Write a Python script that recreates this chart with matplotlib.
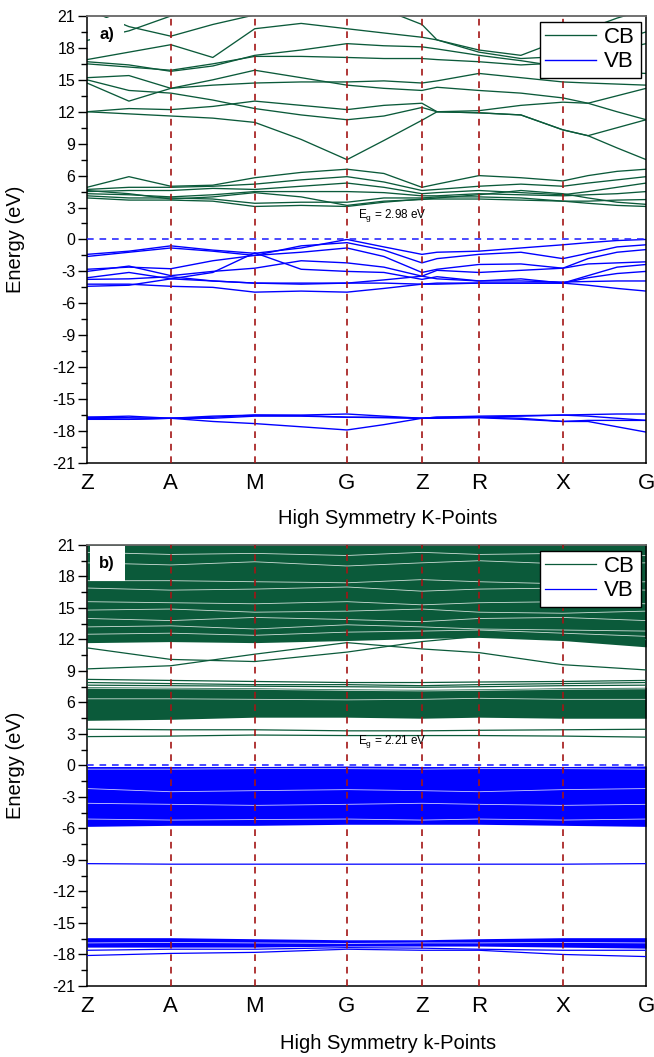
import numpy as np
import matplotlib
matplotlib.use("Agg")
import matplotlib.pyplot as plt
from matplotlib.ticker import MultipleLocator

plt.rcParams['font.family'] = ['Liberation Sans', 'DejaVu Sans']
plt.rcParams['axes.unicode_minus'] = False
plt.rcParams['mathtext.fontset'] = 'custom'
plt.rcParams['mathtext.rm'] = 'Liberation Sans'
plt.rcParams['mathtext.it'] = 'Liberation Sans:italic'

# ---------------- data ----------------
K_LABELS = ["Z", "A", "M", "G", "Z", "R", "X", "G"]
K_TICKS = [0.0, 0.150, 0.300, 0.465, 0.599, 0.701, 0.851, 1.0]
# sampling positions along the path for panel a
K_SAMPLES = [0.0, 0.075, 0.150, 0.225, 0.300, 0.383, 0.465, 0.531,
             0.599, 0.626, 0.701, 0.776, 0.851, 0.896, 0.948, 1.0]

# panel a conduction bands (eV) at K_SAMPLES
cb_a_upper = [
    [21.6, 20.0, 19.1, 20.2, 21.1, 21.6, 21.6, 21.6, 20.2, 18.75, 17.8, 17.3, 18.8, 19.8, 20.8, 21.6],
    [16.9, 17.6, 18.3, 17.1, 19.8, 20.3, 19.8, 19.4, 19.0, 18.75, 17.6, 17.0, 17.2, 17.9, 18.7, 19.5],
    [18.7, 19.6, 21.0, 21.6, 21.6, 21.6, 21.6, 21.6, 21.6, 21.6, 21.6, 21.6, 21.6, 21.6, 21.6, 21.6],
    [16.7, 16.4, 15.8, 16.3, 17.3, 17.8, 18.4, 18.2, 18.1, 17.9, 17.3, 16.8, 16.2, 15.8, 15.7, 15.6],
    [16.5, 16.2, 15.9, 16.5, 17.2, 17.2, 17.1, 17.0, 17.0, 16.9, 16.7, 16.4, 16.6, 17.2, 17.8, 18.4],
    [15.2, 15.4, 14.2, 14.5, 14.7, 14.8, 14.8, 14.9, 14.7, 14.9, 15.6, 15.2, 14.8, 14.7, 14.6, 14.5],
    [15.0, 14.0, 13.75, 13.1, 12.3, 11.7, 11.25, 11.6, 12.4, 12.0, 11.9, 11.7, 10.3, 9.75, 10.5, 11.25],
    [14.7, 13.0, 14.2, 15.0, 15.9, 15.2, 14.5, 14.2, 14.0, 14.3, 14.0, 13.75, 13.3, 12.8, 13.5, 14.2],
    [12.0, 11.8, 11.6, 11.4, 11.0, 9.4, 7.5, 9.3, 11.2, 12.0, 11.9, 11.7, 10.3, 9.75, 8.6, 7.5],
    [12.0, 12.3, 12.2, 12.5, 13.0, 12.6, 12.2, 12.6, 12.8, 12.0, 12.1, 12.6, 12.9, 12.8, 12.0, 11.25],
]
cb_a_lower = [
    [4.9, 5.9, 5.0, 5.1, 5.8, 6.3, 6.6, 6.2, 4.9, 5.2, 6.0, 5.8, 5.5, 6.0, 6.4, 6.6],
    [4.7, 4.9, 4.9, 5.0, 5.2, 5.6, 5.9, 5.4, 4.6, 4.7, 5.0, 5.2, 5.0, 5.3, 5.6, 5.9],
    [4.5, 4.6, 4.6, 4.8, 4.7, 5.0, 5.3, 4.9, 4.3, 4.4, 4.6, 4.4, 4.2, 4.5, 4.9, 5.3],
    [4.3, 4.2, 4.0, 4.2, 4.5, 4.5, 4.5, 4.4, 4.1, 4.1, 4.3, 4.2, 4.1, 4.2, 4.3, 4.5],
    [4.1, 3.9, 3.9, 3.8, 3.4, 3.5, 3.5, 3.9, 3.9, 4.0, 4.0, 3.9, 3.6, 3.6, 3.7, 3.75],
    [3.9, 3.7, 3.7, 3.6, 3.1, 3.2, 3.1, 3.5, 3.8, 3.8, 3.8, 3.7, 3.6, 3.4, 3.2, 3.1],
    [4.6, 4.3, 3.8, 4.0, 4.4, 4.0, 3.2, 3.6, 3.75, 3.9, 4.2, 4.6, 4.3, 3.9, 3.5, 3.3],
]
# panel a valence bands
vb_a_upper = [
    [-1.4, -1.1, -0.6, -1.0, -1.3, -0.8, 0.0, -0.7, -1.4, -1.2, -1.1, -0.8, -0.5, -0.3, -0.1, 0.0],
    [-1.6, -1.2, -0.8, -1.1, -1.5, -0.6, -0.3, -1.0, -2.2, -1.8, -1.4, -1.2, -1.8, -1.3, -0.7, -0.5],
    [-2.8, -2.6, -2.75, -2.0, -1.5, -1.2, -0.8, -1.6, -3.1, -2.8, -2.35, -2.3, -2.7, -1.8, -1.2, -0.95],
    [-3.0, -2.5, -3.4, -3.0, -2.7, -2.0, -2.2, -2.6, -3.45, -2.9, -3.1, -2.9, -2.7, -2.3, -2.2, -2.1],
    [-3.6, -3.1, -3.7, -3.1, -1.25, -2.8, -3.0, -3.1, -3.75, -3.5, -3.9, -3.7, -4.1, -3.4, -2.6, -2.35],
    [-3.75, -3.7, -3.5, -3.9, -4.1, -4.1, -4.1, -4.1, -4.2, -4.1, -4.1, -4.1, -4.1, -3.6, -3.2, -3.0],
    [-4.2, -4.2, -4.4, -4.5, -4.95, -4.85, -4.95, -4.6, -4.2, -4.2, -4.1, -4.1, -4.1, -4.3, -4.6, -4.85],
    [-4.4, -4.3, -3.7, -3.9, -4.1, -4.2, -4.1, -3.8, -3.45, -3.7, -3.9, -3.9, -4.0, -3.95, -3.9, -3.9],
]
vb_a_lower = [
    [-16.7, -16.6, -16.8, -16.7, -16.5, -16.5, -16.4, -16.6, -16.8, -16.7, -16.6, -16.55, -16.5, -16.45, -16.4, -16.4],
    [-16.8, -16.9, -16.8, -16.8, -16.6, -16.6, -16.7, -16.7, -16.8, -16.75, -16.7, -16.8, -17.1, -17.0, -17.0, -17.0],
    [-16.9, -16.9, -16.8, -17.1, -17.3, -17.6, -17.9, -17.4, -16.8, -16.8, -16.75, -16.9, -17.1, -17.1, -17.6, -18.1],
    [-16.7, -16.75, -16.8, -16.6, -16.5, -16.55, -16.7, -16.75, -16.8, -16.7, -16.7, -16.6, -16.5, -16.6, -16.8, -17.0],
]

# panel b (values at K_TICKS)
cb_b_block_hi_low = [11.7, 11.8, 11.7, 11.9, 12.1, 12.2, 11.9, 11.3]
cb_b_block_hi_top = [21.5, 21.5, 21.5, 21.5, 21.5, 21.5, 21.5, 21.5]
cb_b_block_lo_low = [4.3, 4.4, 4.6, 4.6, 4.5, 4.6, 4.5, 4.5]
cb_b_block_lo_top = [7.5, 7.45, 7.4, 7.3, 7.25, 7.3, 7.4, 7.45]
cb_b_lines = [
    [11.2, 10.1, 9.9, 10.8, 11.8, 12.3, 12.2, 12.0],
    [9.2, 9.5, 10.6, 11.7, 11.1, 10.75, 9.6, 9.1],
    [8.2, 8.1, 8.0, 7.9, 7.9, 7.95, 8.0, 8.1],
    [7.9, 7.8, 7.7, 7.7, 7.6, 7.7, 7.8, 7.9],
    [7.65, 7.6, 7.55, 7.5, 7.45, 7.5, 7.6, 7.65],
    [3.45, 3.4, 3.4, 3.3, 3.3, 3.35, 3.4, 3.45],
    [2.75, 2.8, 2.9, 2.85, 2.85, 2.85, 2.8, 2.7],
]
cb_b_gaps = [
    [20.3, 20.1, 20.2, 20.0, 20.3, 20.1, 20.2, 20.0],
    [19.3, 19.1, 19.4, 19.0, 19.3, 19.5, 19.2, 19.3],
    [17.6, 17.6, 17.5, 17.4, 17.7, 17.5, 17.3, 17.5],
    [16.9, 16.7, 16.8, 17.0, 16.6, 16.8, 16.9, 16.7],
    [15.6, 15.5, 15.4, 15.6, 15.3, 15.5, 15.6, 15.4],
    [14.8, 14.9, 14.6, 14.7, 14.9, 14.6, 14.5, 14.7],
    [14.0, 13.8, 14.1, 13.9, 13.7, 14.0, 14.1, 13.8],
    [13.2, 13.3, 13.0, 13.4, 13.2, 13.0, 12.9, 12.8],
    [12.5, 12.6, 12.4, 12.7, 12.8, 12.9, 12.6, 12.3],
    [6.35, 6.35, 6.3, 6.25, 6.3, 6.4, 6.3, 6.3],
    [7.35, 7.3, 7.25, 7.15, 7.1, 7.15, 7.25, 7.3],
]
vb_b_block_hi_top = [-0.1, -0.1, -0.1, -0.05, -0.1, -0.1, -0.1, -0.05]
vb_b_block_hi_low = [-5.8, -5.7, -5.7, -5.6, -5.6, -5.6, -5.7, -5.8]
vb_b_block_lo_top = [-16.4, -16.4, -16.5, -16.6, -16.6, -16.5, -16.4, -16.4]
vb_b_block_lo_low = [-17.3, -17.3, -17.3, -17.2, -17.2, -17.2, -17.3, -17.4]
vb_b_lines = [
    [-9.35, -9.4, -9.4, -9.4, -9.4, -9.4, -9.4, -9.35],
    [-17.6, -17.5, -17.5, -17.35, -17.4, -17.5, -17.6, -17.6],
    [-18.1, -17.9, -17.8, -17.5, -17.6, -17.6, -18.0, -18.2],
]
vb_b_gaps = [
    [-0.35, -0.35, -0.3, -0.3, -0.35, -0.3, -0.3, -0.35],
    [-2.2, -2.5, -2.4, -2.3, -2.4, -2.5, -2.3, -2.2],
    [-3.6, -3.7, -3.8, -3.7, -3.6, -3.7, -3.8, -3.7],
    [-5.1, -5.2, -5.15, -5.1, -5.2, -5.1, -5.2, -5.1],
    [-16.9, -16.85, -16.9, -16.95, -16.9, -16.9, -16.85, -16.9],
]
EG_A = "2.98"
EG_B = "2.21"

# ---------------- style ----------------
CB_COL = "#0b5a3a"
VB_COL = "#0000ff"
K_COL = "#a31515"

fig = plt.figure(figsize=(6.54, 10.57), dpi=100)
ax_a = fig.add_axes([0.133, 0.562, 0.855, 0.4229])
ax_b = fig.add_axes([0.133, 0.0672, 0.855, 0.4172])


def style_axes(ax, tag, xlabel, eg):
    ax.set_xlim(0, 1)
    ax.set_ylim(-21, 21)
    ax.set_yticks(np.arange(-21, 22, 3))
    ax.yaxis.set_minor_locator(MultipleLocator(1.5))
    ax.tick_params(axis='y', which='major', direction='out', length=6.5, width=1,
                   labelsize=11.5, pad=2)
    ax.tick_params(axis='y', which='minor', direction='out', length=4, width=1)
    ax.set_xticks(K_TICKS)
    ax.set_xticklabels(K_LABELS)
    ax.tick_params(axis='x', length=0, labelsize=16, pad=7)
    for k in K_TICKS[1:-1]:
        ax.axvline(k, color=K_COL, lw=1.2, ls=(0, (4, 3.5)), zorder=5)
    ax.axhline(0, color="#2a2aff", lw=1.2, ls=(0, (4, 3.5)), zorder=5)
    for s in ['left', 'bottom', 'right']:
        ax.spines[s].set_linewidth(1.1)
    ax.spines['top'].set_color('#666666')
    ax.spines['top'].set_linewidth(1.3)
    ax.set_ylabel("Energy (eV)", fontsize=14.5)
    ax.yaxis.set_label_coords(-0.111, 0.5)
    ax.set_xlabel(xlabel, fontsize=14.5)
    ax.text(0.036, 0.958, tag, transform=ax.transAxes, fontsize=12, fontweight='bold',
            ha='center', va='center', zorder=8,
            bbox=dict(facecolor='white', edgecolor='none', pad=7))
    ax.text(0.485, 1.45, r"E$_{\mathrm{g}}$ = " + eg + " eV", fontsize=8.5,
            ha='left', va='bottom', zorder=4)
    leg = ax.legend(loc='upper right', fontsize=16, frameon=True, fancybox=False,
                    edgecolor='black', framealpha=1, handlelength=2.3,
                    borderpad=0.25, labelspacing=0.15, handletextpad=0.35,
                    borderaxespad=0.25)
    leg.get_frame().set_linewidth(1.0)
    leg.set_zorder(10)


# panel a
for i, b in enumerate(cb_a_upper + cb_a_lower):
    ax_a.plot(K_SAMPLES, b, color=CB_COL, lw=0.95, label="CB" if i == 0 else None, zorder=2)
for i, b in enumerate(vb_a_upper + vb_a_lower):
    ax_a.plot(K_SAMPLES, b, color=VB_COL, lw=1.0, label="VB" if i == 0 else None, zorder=2)
style_axes(ax_a, "a)", "High Symmetry K-Points", EG_A)
ax_a.xaxis.set_label_coords(0.538, -0.103)

# panel b
ax_b.fill_between(K_TICKS, cb_b_block_hi_low, cb_b_block_hi_top, color=CB_COL, lw=0, zorder=1)
ax_b.fill_between(K_TICKS, cb_b_block_lo_low, cb_b_block_lo_top, color=CB_COL, lw=0, zorder=1)
ax_b.fill_between(K_TICKS, vb_b_block_hi_low, vb_b_block_hi_top, color=VB_COL, lw=0, zorder=1)
ax_b.fill_between(K_TICKS, vb_b_block_lo_low, vb_b_block_lo_top, color=VB_COL, lw=0, zorder=1)
for g in cb_b_gaps + vb_b_gaps:
    ax_b.plot(K_TICKS, g, color='white', lw=0.6, alpha=0.8, zorder=2)
for i, b in enumerate(cb_b_lines):
    ax_b.plot(K_TICKS, b, color=CB_COL, lw=0.9, label="CB" if i == 0 else None, zorder=3)
for i, b in enumerate(vb_b_lines):
    ax_b.plot(K_TICKS, b, color=VB_COL, lw=0.9, label="VB" if i == 0 else None, zorder=3)
style_axes(ax_b, "b)", "High Symmetry k-Points", EG_B)
ax_b.xaxis.set_label_coords(0.538, -0.109)

fig.savefig("out.png", dpi=100, facecolor='white')
